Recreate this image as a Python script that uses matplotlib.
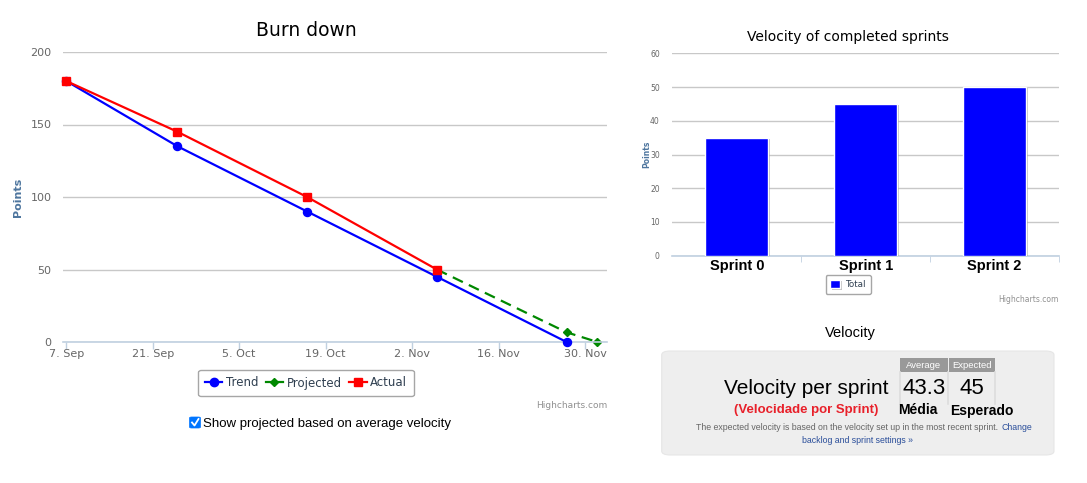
import matplotlib
matplotlib.use('Agg')
import matplotlib.pyplot as plt
from matplotlib.patches import FancyBboxPatch, Rectangle
from matplotlib.lines import Line2D
import matplotlib.patheffects as pe
import pandas as pd

W, H = 1087, 483

# ---------------- data ----------------
sprint_dates = ['2015-09-07', '2015-09-25', '2015-10-16', '2015-11-06', '2015-11-27']
trend_points = [180, 135, 90, 45, 0]
actual_points = [180, 145, 100, 50]
projected_dates = ['2015-11-06', '2015-11-27', '2015-12-02']
projected_points = [50, 6.7, 0]
burn_x_ticks = ['2015-09-07', '2015-09-21', '2015-10-05', '2015-10-19',
                '2015-11-02', '2015-11-16', '2015-11-30']
burn_y_ticks = [0, 50, 100, 150, 200]

sprints = ['Sprint 0', 'Sprint 1', 'Sprint 2']
velocity = [35, 45, 50]
vel_y_ticks = [0, 10, 20, 30, 40, 50, 60]

average_velocity = 43.3
expected_velocity = 45


def fx(x):
    return x / W


def fy(y):
    return 1 - y / H


fig = plt.figure(figsize=(W / 100, H / 100), dpi=100)
fig.patch.set_facecolor('white')

AXIS_COL = '#C0D0E0'
GRID_COL = '#C8C8C8'
TICK_COL = '#666666'
LABEL_COL = '#4D759E'

# ---------------- Burn down ----------------
ax = fig.add_axes([fx(62.5), fy(342), fx(606.7 - 62.5), 290 / H])
sd = pd.to_datetime(sprint_dates)
pdts = pd.to_datetime(projected_dates)
ax.plot(sd, trend_points, color='#0000FF', lw=1.6, marker='o', ms=5.8, clip_on=False, zorder=3)
ax.plot(sd[:len(actual_points)], actual_points, color='#FF0000', lw=1.6, marker='s', ms=6,
        clip_on=False, zorder=4)
ax.plot(pdts, projected_points, color='#008800', lw=1.6, marker='D', ms=4, clip_on=False,
        dashes=[5, 3], zorder=2)
start = pd.Timestamp(sprint_dates[0])
ax.set_xlim(start - pd.Timedelta(days=0.6), start + pd.Timedelta(days=87.5))
ax.set_ylim(0, 200)
ax.set_yticks(burn_y_ticks)
xt = pd.to_datetime(burn_x_ticks)
ax.set_xticks(xt)
ax.set_xticklabels([f"{d.day}. {d.strftime('%b')}" for d in xt])
for s in ['top', 'right', 'left']:
    ax.spines[s].set_visible(False)
ax.spines['bottom'].set_color(AXIS_COL)
ax.spines['bottom'].set_linewidth(1.2)
ax.tick_params(axis='x', colors=AXIS_COL, length=5, width=1, labelcolor=TICK_COL, labelsize=8, pad=0)
ax.tick_params(axis='y', length=0, labelcolor=TICK_COL, labelsize=8, pad=8)
ax.grid(axis='y', color=GRID_COL, lw=1)
ax.set_axisbelow(True)
ax.set_ylabel('Points', color=LABEL_COL, fontweight='bold', fontsize=8, labelpad=5)
fig.text(fx(306), fy(31), 'Burn down', ha='center', va='center', fontsize=13.5, color='#000000')

handles = [
    Line2D([], [], color='#0000FF', lw=1.6, marker='o', ms=6),
    Line2D([], [], color='#008800', lw=1.6, marker='D', ms=4),
    Line2D([], [], color='#FF0000', lw=1.6, marker='s', ms=6),
]
leg = ax.legend(handles, ['Trend', 'Projected', 'Actual'], loc='center',
                bbox_to_anchor=(fx(306), fy(383)), bbox_transform=fig.transFigure,
                ncol=3, frameon=True, fancybox=True, edgecolor='#909090', fontsize=8.5,
                handlelength=1.5, columnspacing=0.6, handletextpad=0.3, borderpad=0.55,
                labelcolor='#2F3F50')
leg.get_frame().set_linewidth(1)
fig.text(fx(607), fy(405), 'Highcharts.com', ha='right', va='center', fontsize=6.5, color='#909090')

# checkbox
cb = FancyBboxPatch((fx(189.5), fy(428)), fx(11), 11 / H, boxstyle='round,pad=0,rounding_size=0.002',
                    transform=fig.transFigure, facecolor='#0075FF', edgecolor='#0075FF', lw=0.5)
fig.patches.append(cb)
fig.lines.append(Line2D([fx(192), fx(194.5), fx(198.5)], [fy(422.5), fy(425.5), fy(419)],
                        transform=fig.transFigure, color='white', lw=1.3))
fig.text(fx(203), fy(424), 'Show projected based on average velocity', ha='left', va='center',
         fontsize=9.5, family='Liberation Sans', color='#000000')

# ---------------- Velocity bars ----------------
bx = fig.add_axes([fx(672.3), fy(255.7), fx(1059 - 672.3), (255.7 - 53.3) / H])
xs = list(range(len(sprints)))
bars = bx.bar(xs, velocity, width=0.49, color='#0000FF', edgecolor='white', lw=1, label='Total', zorder=3)
for b in bars:
    b.set_path_effects([pe.SimplePatchShadow(offset=(1.2, -1.0), shadow_rgbFace='#888888', alpha=0.5),
                        pe.Normal()])
bx.set_xlim(-0.5, len(sprints) - 0.5)
bx.set_ylim(0, 60)
bx.set_yticks(vel_y_ticks)
bx.set_xticks(xs)
bx.set_xticklabels(sprints, fontweight='bold', fontsize=10.5, color='#000000', family='Liberation Sans')
bx.set_xticks([x + 0.5 for x in xs], minor=True)
bx.tick_params(axis='x', which='major', length=0, pad=2.5)
bx.tick_params(axis='x', which='minor', length=4, color=AXIS_COL)
bx.tick_params(axis='y', length=0, labelcolor=TICK_COL, labelsize=5.5, pad=9)
for s in ['top', 'right', 'left']:
    bx.spines[s].set_visible(False)
bx.spines['bottom'].set_color(AXIS_COL)
bx.spines['bottom'].set_linewidth(1.2)
bx.grid(axis='y', color=GRID_COL, lw=1)
bx.set_axisbelow(True)
bx.set_ylabel('Points', color=LABEL_COL, fontweight='bold', fontsize=5.5, labelpad=-1)
fig.text(fx(848), fy(37), 'Velocity of completed sprints', ha='center', va='center', fontsize=10,
         color='#000000')
bleg = bx.legend(loc='center', bbox_to_anchor=(fx(848), fy(284.5)), bbox_transform=fig.transFigure,
                 frameon=True, fancybox=True, edgecolor='#909090', fontsize=6.3, handlelength=1.1,
                 handleheight=1.1, handletextpad=0.6, borderpad=0.55, labelcolor='#2F3F50')
fig.text(fx(1059), fy(299), 'Highcharts.com', ha='right', va='center', fontsize=5.5, color='#909090')

# ---------------- Velocity panel ----------------
ARIAL = 'Liberation Sans'
fig.text(fx(850.7), fy(333), 'Velocity', ha='center', va='center', fontsize=10.5, family=ARIAL)
panel = FancyBboxPatch((fx(661.7), fy(455)), fx(1054 - 661.7), (455 - 351) / H,
                       boxstyle='round,pad=0,rounding_size=0.008', transform=fig.transFigure,
                       facecolor='#EEEEEE', edgecolor='#E6E6E6', lw=0.8)
fig.patches.append(panel)
for x0, x1, txt in [(900, 947.7, 'Average'), (948.7, 995, 'Expected')]:
    fig.patches.append(Rectangle((fx(x0), fy(371.7)), fx(x1 - x0), (371.7 - 357.7) / H,
                                 transform=fig.transFigure, facecolor='#999999', edgecolor='none'))
    fig.text(fx((x0 + x1) / 2), fy(365), txt, ha='center', va='center', fontsize=6.8,
             color='white', family=ARIAL)
for xv in [900, 948.2, 995]:
    fig.lines.append(Line2D([fx(xv), fx(xv)], [fy(372), fy(404)], transform=fig.transFigure,
                            color='#DDDDDD', lw=1.2))
fig.text(fx(923.9), fy(388.5), f'{average_velocity}', ha='center', va='center', fontsize=16,
         family=ARIAL)
fig.text(fx(971.8), fy(388.5), f'{expected_velocity}', ha='center', va='center', fontsize=16,
         family=ARIAL)
fig.text(fx(889), fy(388.5), 'Velocity per sprint', ha='right', va='center', fontsize=15,
         family=ARIAL)
fig.text(fx(806), fy(410.5), '(Velocidade por Sprint)', ha='center', va='center', fontsize=9.5,
         fontweight='bold', color='#E8202A', family=ARIAL)
fig.text(fx(917.5), fy(410.5), 'Média', ha='center', va='center', fontsize=10,
         fontweight='bold', color='#000000', family=ARIAL)
fig.text(fx(982), fy(410.5), 'Esperado', ha='center', va='center', fontsize=10,
         fontweight='bold', color='#000000', family=ARIAL)
fig.text(fx(998), fy(428), 'The expected velocity is based on the velocity set up in the most recent sprint.',
         ha='right', va='center', fontsize=6.3, color='#666666', family=ARIAL)
fig.text(fx(1001), fy(428), 'Change', ha='left', va='center', fontsize=6.3, color='#2A4E9A',
         family=ARIAL)
fig.text(fx(857.5), fy(440.7), 'backlog and sprint settings »', ha='center', va='center', fontsize=6.3,
         color='#2A4E9A', family=ARIAL)

fig.savefig('out.png', dpi=100, facecolor='white')
